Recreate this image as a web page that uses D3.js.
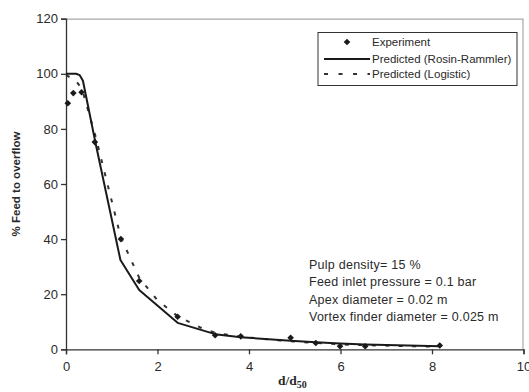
<!DOCTYPE html>
<html>
<head>
<meta charset="utf-8">
<script src="https://cdn.jsdelivr.net/npm/d3@7"></script>
<style>
  body { margin: 0; background: #fff; }
  svg text { font-family: "Liberation Sans", Arial, sans-serif; fill: #2a2a2a; }
</style>
</head>
<body>
<svg id="chart" width="529" height="392"></svg>
<script>
// values
const sizeRatio = [0.04, 0.16, 0.34, 0.63, 1.2, 1.6, 2.44, 3.26, 3.82, 4.91, 5.46, 5.99, 6.54, 8.17];
const experiment = [89.3, 93, 93.3, 75.2, 40, 24.8, 11.8, 5.1, 4.7, 4.2, 2.3, 1.1, 1.1, 1.4];

const rrRatio = [0, 0.22, 0.3, 0.37, 0.65, 1.19, 1.6, 2.44, 3.26, 3.82, 4.91, 5.46, 5.99, 6.54, 8.17];
const rosinRammler = [100, 100, 99.5, 97.5, 74.5, 32.4, 21.5, 9.6, 5.5, 4.4, 3.1, 2.6, 2.1, 1.7, 1.1];

const logRatio = [0, 0.2, 0.35, 0.65, 1.2, 1.6, 2.0, 2.44, 3.0, 3.26, 3.82, 4.91, 5.46, 5.99, 6.54, 8.17];
const logistic = [99.5, 97.8, 94.5, 77, 40.5, 26, 17.8, 12, 7.4, 6, 4.5, 2.9, 2.3, 1.8, 1.5, 0.9];

const xTicks = [0, 2, 4, 6, 8, 10];
const yTicks = [0, 20, 40, 60, 80, 100, 120];

const legendItems = ["Experiment", "Predicted (Rosin-Rammler)", "Predicted (Logistic)"];
const notes = ["Pulp density= 15 %", "Feed inlet pressure = 0.1 bar",
               "Apex diameter = 0.02 m", "Vortex finder diameter = 0.025 m"];

const svg = d3.select("#chart");
const margin = {left: 66, top: 18.7, right: 5.5, bottom: 42.7};
const width = 529 - margin.left - margin.right;
const height = 392 - margin.top - margin.bottom;

const x = d3.scaleLinear().domain([0, 10]).range([0, width]);
const y = d3.scaleLinear().domain([0, 120]).range([height, 0]);

const g = svg.append("g").attr("transform", `translate(${margin.left},${margin.top})`);

// plot frame: grey top/right
g.append("path")
  .attr("d", `M0,0.5H${width - 0.5}V${height}`)
  .attr("fill", "none").attr("stroke", "#a8a8a8").attr("stroke-width", 1.2);

const yAxis = g.append("g")
  .call(d3.axisLeft(y).tickValues(yTicks).tickSize(5).tickPadding(3));
const xAxis = g.append("g").attr("transform", `translate(0,${height})`)
  .call(d3.axisBottom(x).tickValues(xTicks).tickSize(5).tickPadding(7));

[xAxis, yAxis].forEach(ax => {
  ax.selectAll("path, line").attr("stroke", "#333").attr("stroke-width", 1.3);
  ax.selectAll("text").attr("font-size", 13).attr("fill", "#3a3a3a")
    .attr("font-family", "Liberation Sans, Arial, sans-serif");
});

// curves
const line = (xs) => d3.line().x((d, i) => x(xs[i])).y(d => y(d));

g.append("path").datum(logistic)
  .attr("d", line(logRatio))
  .attr("fill", "none").attr("stroke", "#333")
  .attr("stroke-width", 2).attr("stroke-dasharray", "4,9.5");

g.append("path").datum(rosinRammler)
  .attr("d", line(rrRatio))
  .attr("fill", "none").attr("stroke", "#1a1a1a").attr("stroke-width", 2)
  .attr("stroke-linejoin", "round");

const diamond = d3.symbol().type(d3.symbolSquare).size(22);

g.selectAll(".exp").data(experiment).join("path")
  .attr("class", "exp")
  .attr("d", diamond)
  .attr("transform", (d, i) => `translate(${x(sizeRatio[i])},${y(d)}) rotate(45)`)
  .attr("fill", "#1a1a1a");

// legend
const lg = svg.append("g").attr("transform", "translate(318,32.5)");
lg.append("rect").attr("width", 199).attr("height", 53)
  .attr("fill", "#fff").attr("stroke", "#333").attr("stroke-width", 1);

const rowY = [9.5, 26.5, 41.5];
lg.append("path").attr("d", diamond)
  .attr("transform", `translate(29,${rowY[0]}) rotate(45)`).attr("fill", "#1a1a1a");
lg.append("line").attr("x1", 6).attr("x2", 52).attr("y1", rowY[1]).attr("y2", rowY[1])
  .attr("stroke", "#1a1a1a").attr("stroke-width", 2);
lg.append("line").attr("x1", 6).attr("x2", 52).attr("y1", rowY[2]).attr("y2", rowY[2])
  .attr("stroke", "#333").attr("stroke-width", 2).attr("stroke-dasharray", "4,10.5");

lg.selectAll(".lt").data(legendItems).join("text")
  .attr("class", "lt")
  .attr("x", 54)
  .attr("y", (d, i) => rowY[i] + 4)
  .attr("font-size", 11.5)
  .text(d => d);

// conditions note
svg.selectAll(".note").data(notes).join("text")
  .attr("class", "note")
  .attr("x", 309)
  .attr("y", (d, i) => 268.5 + i * 17.6)
  .attr("font-size", 12.5)
  .attr("letter-spacing", 0.25)
  .text(d => d);

// axis titles
svg.append("text")
  .attr("transform", "translate(20,184) rotate(-90)")
  .attr("text-anchor", "middle")
  .attr("font-size", 11.5).attr("font-weight", "bold")
  .text("% Feed to overflow");

const xt = svg.append("text")
  .attr("x", 278).attr("y", 385)
  .style("font-family", "'Liberation Serif', 'Times New Roman', serif")
  .attr("font-size", 13.5).attr("font-weight", "bold");
xt.append("tspan").text("d/d");
xt.append("tspan").attr("font-size", 10).attr("dy", 3).text("50");
</script>
</body>
</html>
